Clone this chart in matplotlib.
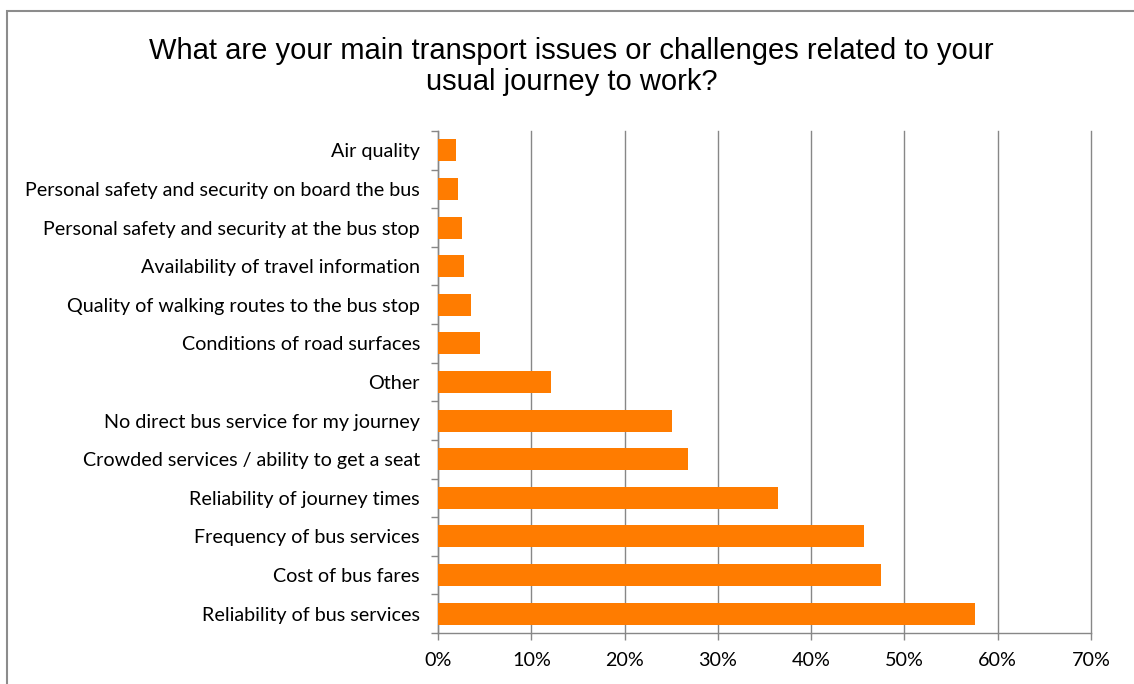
import matplotlib
matplotlib.use("Agg")
import matplotlib.pyplot as plt
from matplotlib.patches import Rectangle
from matplotlib.ticker import FixedLocator, PercentFormatter
import numpy as np

# survey responses, bottom bar first
issues = [
    "Reliability of bus services",
    "Cost of bus fares",
    "Frequency of bus services",
    "Reliability of journey times",
    "Crowded services / ability to get a seat",
    "No direct bus service for my journey",
    "Other",
    "Conditions of road surfaces",
    "Quality of walking routes to the bus stop",
    "Availability of travel information",
    "Personal safety and security at the bus stop",
    "Personal safety and security on board the bus",
    "Air quality",
]
share = [57.6, 47.5, 45.7, 36.5, 26.8, 25.1, 12.1, 4.5, 3.5, 2.8, 2.6, 2.1, 1.9]
xticks = [0, 10, 20, 30, 40, 50, 60, 70]

bar_color = "#FF7C00"
grid_color = "#878787"
label_font = "Lato"
label_size = 14.2

fig = plt.figure(figsize=(11.34, 6.84), dpi=100)
ax = fig.add_axes([438 / 1134, 1 - 633 / 684, (1091 - 438) / 1134, (633 - 131) / 684])

y = np.arange(len(issues))
ax.barh(y, share, height=0.57, color=bar_color, zorder=3)

ax.set_xlim(0, 70)
ax.set_ylim(-0.5, len(issues) - 0.5)
ax.set_xticks(xticks)
ax.xaxis.set_major_formatter(PercentFormatter(decimals=0))
ax.set_yticks(y)
ax.set_yticklabels(issues)
ax.yaxis.set_minor_locator(FixedLocator(np.arange(-0.5, len(issues), 1.0)))

ax.grid(axis="x", color=grid_color, linewidth=1.0, zorder=0)
for line in ax.get_xgridlines():
    line.set_clip_on(False)
ax.set_axisbelow(True)
for side in ["top", "right"]:
    ax.spines[side].set_visible(False)
for side in ["left", "bottom"]:
    ax.spines[side].set_color(grid_color)
    ax.spines[side].set_linewidth(1.0)

ax.tick_params(axis="y", which="major", length=0, pad=13, labelsize=label_size)
ax.tick_params(axis="y", which="minor", length=5, width=1.0, color=grid_color)
ax.tick_params(axis="x", which="major", length=5, width=1.0, color=grid_color,
               pad=9, labelsize=label_size)
for lab in ax.get_xticklabels() + ax.get_yticklabels():
    lab.set_family(label_font)

fig.text(0.504, 0.903,
         "What are your main transport issues or challenges related to your\nusual journey to work?",
         ha="center", va="center", fontsize=21, family="Liberation Sans",
         linespacing=1.12)

# chart frame
fig.patches.append(Rectangle((6.5 / 1134, -0.1), 1.2, 1 - 11.5 / 684 + 0.1,
                             transform=fig.transFigure, fill=False,
                             edgecolor="#8c8c8c", linewidth=1.5))

fig.savefig("out.png", dpi=100)
